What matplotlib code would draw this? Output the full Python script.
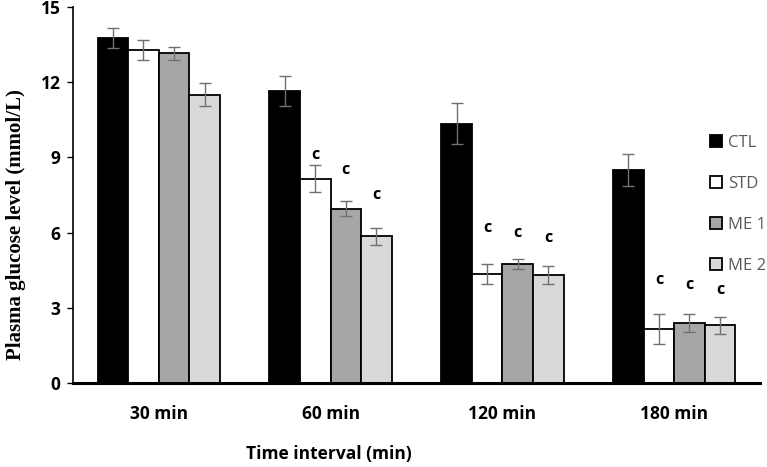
import matplotlib.pyplot as plt
import numpy as np

groups = ["30 min", "60 min", "120 min", "180 min"]
series = ["CTL", "STD", "ME 1", "ME 2"]
means = {
    "CTL": [13.75, 11.65, 10.35, 8.5],
    "STD": [13.3, 8.15, 4.35, 2.15],
    "ME 1": [13.15, 6.95, 4.75, 2.4],
    "ME 2": [11.5, 5.85, 4.3, 2.3],
}
errors = {
    "CTL": [0.4, 0.6, 0.8, 0.65],
    "STD": [0.4, 0.55, 0.4, 0.6],
    "ME 1": [0.25, 0.3, 0.2, 0.35],
    "ME 2": [0.45, 0.35, 0.35, 0.35],
}
# significance letters (only for treated groups at 60-180 min)
sig = {
    "STD": ["", "c", "c", "c"],
    "ME 1": ["", "c", "c", "c"],
    "ME 2": ["", "c", "c", "c"],
}
sig_y = {
    "STD": [0, 9.1, 6.2, 4.1],
    "ME 1": [0, 8.5, 6.0, 3.9],
    "ME 2": [0, 7.5, 5.8, 3.7],
}
colors = {"CTL": "#000000", "STD": "#ffffff", "ME 1": "#a6a6a6", "ME 2": "#d9d9d9"}

fig = plt.figure(figsize=(7.67, 4.67), dpi=100)
ax = fig.add_axes([0.095, 0.18, 0.896, 0.805])

x = np.arange(len(groups))
w = 0.178
for i, s in enumerate(series):
    pos = x + (i - 1.5) * w
    ax.bar(pos, means[s], w, color=colors[s], edgecolor="black", linewidth=1.3,
           label=s, zorder=2)
    ax.errorbar(pos, means[s], yerr=errors[s], fmt="none", ecolor="#707070",
                elinewidth=1, capsize=4, capthick=1, zorder=3)
    if s in sig:
        for p, t, yy in zip(pos, sig[s], sig_y[s]):
            if t:
                ax.text(p, yy, t, ha="center", va="center", fontsize=11.5,
                        fontweight="bold", family="Open Sans")

ax.set_xlim(-0.5, 3.5)
ax.set_ylim(0, 15)
ax.set_yticks([0, 3, 6, 9, 12, 15])
ax.set_xticks(x)
ax.set_xticklabels(groups)
ax.tick_params(axis="x", length=0, pad=16)
ax.tick_params(axis="y", length=4, width=1, pad=5)
for lab in ax.get_xticklabels() + ax.get_yticklabels():
    lab.set_fontfamily("Open Sans")
    lab.set_fontweight("bold")
    lab.set_fontsize(12.5)

ax.spines["top"].set_visible(False)
ax.spines["right"].set_visible(False)
ax.spines["left"].set_linewidth(1.2)
ax.spines["bottom"].set_linewidth(2.2)

ax.set_ylabel("Plasma glucose level (mmol/L)", family="Liberation Serif",
              fontweight="bold", fontsize=15)
ax.yaxis.set_label_coords(-0.068, 0.42)
ax.set_xlabel("Time interval (min)", family="Open Sans", fontweight="bold",
              fontsize=12.5)
ax.xaxis.set_label_coords(0.373, -0.165)

leg = ax.legend(loc="upper left", bbox_to_anchor=(0.905, 0.70), frameon=False,
                handlelength=0.75, handleheight=0.75, handletextpad=0.35,
                labelspacing=1.5, prop={"family": "Open Sans", "size": 12})
for t in leg.get_texts():
    t.set_color("#595959")

fig.savefig("out.png", dpi=100)
